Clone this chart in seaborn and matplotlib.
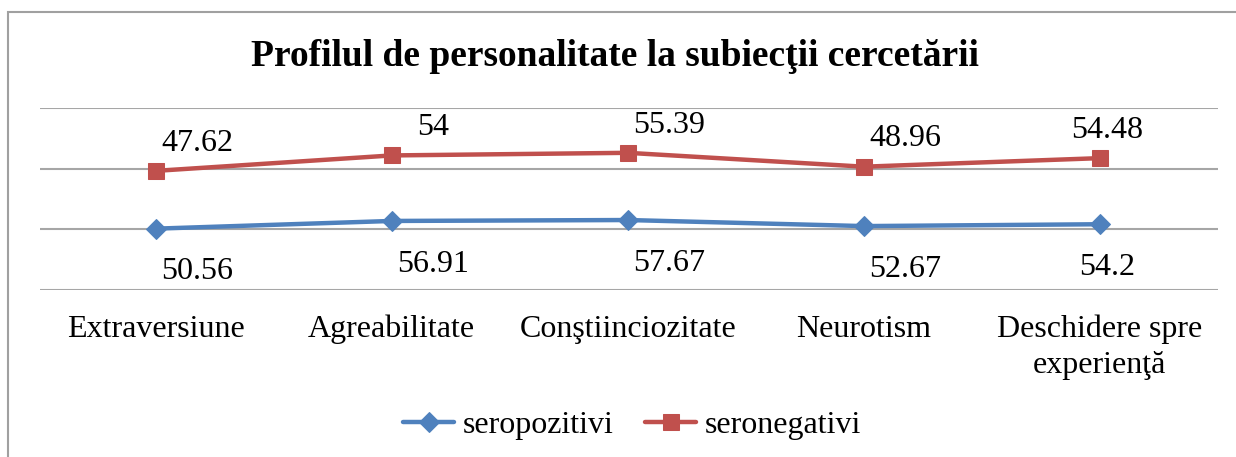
import matplotlib
matplotlib.use("Agg")
import matplotlib.pyplot as plt
import seaborn as sns
import pandas as pd
from matplotlib.patches import Rectangle

categories = ["Extraversiune", "Agreabilitate", "Conştiinciozitate", "Neurotism",
              "Deschidere spre\nexperienţă"]
seropozitivi = [50.56, 56.91, 57.67, 52.67, 54.2]
seronegativi = [47.62, 54, 55.39, 48.96, 54.48]
title = "Profilul de personalitate la subiecţii cercetării"

sns.set_theme(style="white")
plt.rcParams['font.family'] = ['Liberation Serif', 'DejaVu Serif']
plt.rcParams['text.color'] = 'black'
plt.rcParams['xtick.color'] = 'black'

pos = list(range(len(categories)))
stack_neg = [a + b for a, b in zip(seropozitivi, seronegativi)]
df = pd.DataFrame({"x": pos, "poz": seropozitivi, "neg": stack_neg})

fig = plt.figure(figsize=(12.36, 4.57), dpi=100)
ax = fig.add_axes([0.0324, 1 - 290/457, 0.9854 - 0.0324, (290 - 108)/457])

blue = "#4F81BD"
red = "#C0504D"
sns.lineplot(data=df, x="x", y="poz", ax=ax, color=blue, lw=3.2, marker="D",
             markersize=10, markeredgecolor=blue, label="seropozitivi")
sns.lineplot(data=df, x="x", y="neg", ax=ax, color=red, lw=3.2, marker="s",
             markersize=12, markeredgecolor=red, label="seronegativi")

ax.set_xlim(-0.49, 4.5)
ax.set_ylim(0, 150)
ax.set_yticks([0, 50, 100, 150])
ax.yaxis.grid(True, color="#a6a6a6", lw=1.5)
ax.xaxis.grid(False)
for s in ax.spines.values():
    s.set_visible(False)
ax.tick_params(axis="y", left=False, labelleft=False)
ax.set_xticks(pos)
ax.set_xticklabels(categories, fontsize=23, linespacing=1.3)
ax.tick_params(axis="x", bottom=False, pad=12, colors="black")
ax.set_xlabel("")
ax.set_ylabel("")

for i in pos:
    dx = 30 if i < len(pos) - 1 else 5
    ax.annotate(f"{seronegativi[i]:g}", (i, stack_neg[i]), xytext=(dx, 20),
                textcoords="offset points", ha="center", va="center", fontsize=23)
    ax.annotate(f"{seropozitivi[i]:g}", (i, seropozitivi[i]), xytext=(dx, -31),
                textcoords="offset points", ha="center", va="center", fontsize=23)

fig.text(615/1236, 1 - 57/457, title, ha="center", va="center", fontsize=27,
         fontweight="bold")

leg = ax.legend(loc="center", bbox_to_anchor=(632/1236, 1 - 425/457),
                bbox_transform=fig.transFigure, ncol=2, frameon=False,
                fontsize=23, handlelength=1.6, columnspacing=1.0, handletextpad=0.25)

fig.patches.append(Rectangle((8/1236, -0.1), 1.2, 1 - 12/457 + 0.1,
                             transform=fig.transFigure, fill=False,
                             edgecolor="#a0a0a0", lw=1.5))

fig.savefig("out.png", dpi=100, facecolor="white")
